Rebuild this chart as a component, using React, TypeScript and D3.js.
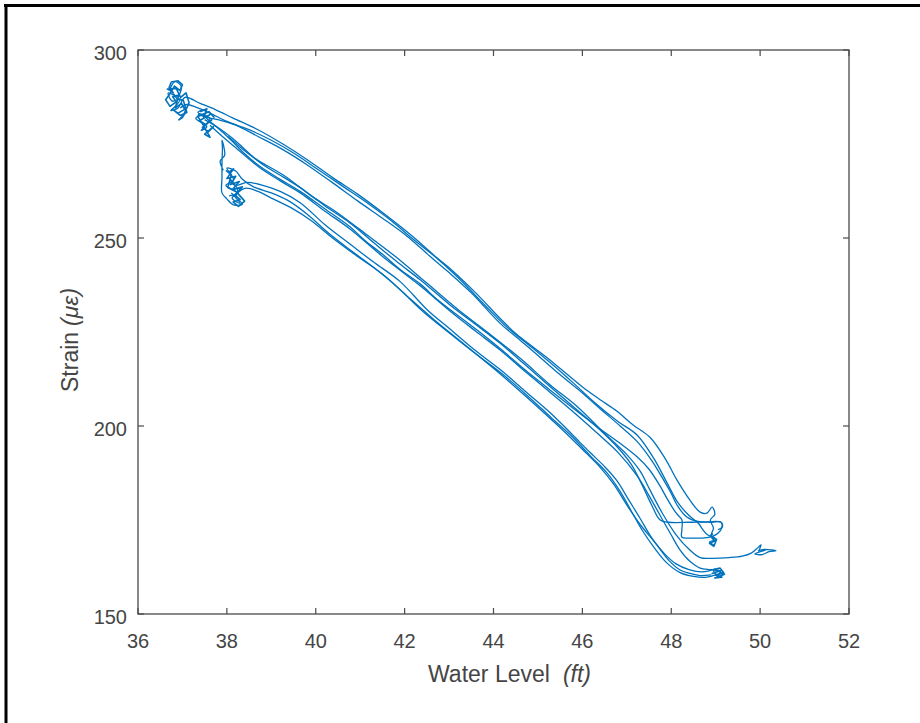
import React, { useEffect, useRef } from 'react';
import * as d3 from 'd3';

type Pt = [number, number];

const xTicks = [36, 38, 40, 42, 44, 46, 48, 50, 52];
const yTicks = [150, 200, 250, 300];
const xLabel = 'Water Level';
const xUnit = '(ft)';
const yLabel = 'Strain';
const yUnit = '(με)';

// [water level (ft), strain (με)]
const pass1: Pt[] = [[36.72,289.6],[36.83,291.6],[36.97,290.4],[36.90,287.8],[36.68,288.6],[36.77,286.4],[36.95,287.0],[36.85,285.1],[36.74,283.9],[36.90,284.6],[37.06,287.4],[37.40,285.8],[37.75,284.1],[38.14,281.9],[38.70,278.8],[39.26,275.0],[39.80,270.9],[40.39,266.0],[40.95,261.6],[41.51,256.7],[41.90,253.1],[42.28,249.4],[42.65,245.5],[43.02,241.9],[43.60,235.4],[44.15,228.6],[44.50,224.6],[44.89,221.0],[45.20,218.2],[45.50,215.3],[46.01,210.3],[46.40,207.0],[46.78,203.9],[47.15,200.2],[47.52,197.0],[47.86,191.4],[48.13,185.6],[48.42,180.3],[48.65,177.1],[48.80,176.8],[48.92,178.4],[48.98,176.5],[48.88,175.0],[48.95,172.8],[48.90,171.0],[49.00,169.8],[48.86,169.2],[48.96,168.4]];

const pass2: Pt[] = [[48.94,170.6],[48.70,170.2],[48.45,170.2],[48.24,170.4],[48.24,172.5],[48.24,175.0],[48.10,177.0],[47.90,180.8],[47.75,184.0],[47.50,188.5],[47.23,191.8],[46.80,195.8],[46.40,199.2],[45.85,204.2],[45.27,209.6],[44.70,215.0],[44.15,220.6],[43.60,225.8],[43.02,231.0],[42.70,234.0],[42.35,237.8],[41.90,241.6],[41.51,245.6],[41.10,249.4],[40.77,253.0],[40.20,257.8],[39.65,262.4],[39.20,265.6],[38.75,269.0],[38.40,272.4],[38.14,275.5],[37.90,278.2],[37.62,281.0],[37.45,282.6],[37.30,281.8],[37.55,279.6],[37.42,278.6],[37.62,281.8],[37.35,283.4],[37.50,284.2]];

const pass3: Pt[] = [[37.35,283.0],[37.50,282.2],[37.80,281.5],[38.20,280.0],[38.70,277.0],[39.26,273.5],[39.80,269.5],[40.39,264.6],[40.95,259.8],[41.51,255.2],[42.00,251.0],[42.28,248.2],[42.70,243.8],[43.02,240.6],[43.50,235.4],[44.15,227.3],[44.60,222.8],[44.89,219.9],[45.50,213.6],[46.00,208.8],[46.40,204.6],[46.85,200.0],[47.23,195.9],[47.55,191.0],[47.75,187.2],[47.98,182.5],[48.15,178.6],[48.35,175.8],[48.60,174.6],[48.90,174.4],[49.12,174.4],[49.14,173.0],[49.05,171.5],[48.92,170.6]];

const pass4: Pt[] = [[48.90,160.4],[48.65,160.2],[48.42,160.8],[48.20,161.7],[47.95,164.2],[47.75,167.2],[47.52,171.0],[47.30,175.4],[47.05,180.2],[46.78,185.4],[46.50,189.2],[46.17,193.0],[45.75,198.0],[45.27,203.6],[44.70,209.4],[44.15,215.0],[43.60,220.0],[43.02,225.8],[42.50,231.0],[41.90,238.4],[41.30,243.6],[40.77,248.4],[40.20,253.6],[39.65,259.4],[39.20,262.4],[38.75,264.2],[38.45,264.8],[38.18,264.0],[38.05,266.0],[38.25,262.5],[38.12,260.6],[38.30,259.2],[38.10,262.0]];

const pass5: Pt[] = [[36.95,284.6],[37.10,285.5],[37.30,284.8],[37.62,283.2],[38.00,281.0],[38.50,278.8],[39.00,276.0],[39.50,272.6],[40.05,268.2],[40.60,263.8],[41.20,259.0],[41.70,254.6],[42.20,249.6],[42.70,244.9],[43.20,239.5],[43.80,232.2],[44.30,226.3],[44.80,221.5],[45.30,216.6],[45.80,211.4],[46.30,206.0],[46.80,201.2],[47.23,197.6],[47.60,191.5],[47.90,185.0],[48.15,179.6],[48.40,176.2],[48.62,174.0],[48.70,172.6],[48.80,171.2],[48.94,170.4]];

const pass6: Pt[] = [[37.62,280.0],[37.90,277.0],[38.14,274.6],[38.75,268.6],[39.20,265.2],[39.65,262.0],[40.20,257.2],[40.77,252.4],[41.51,245.0],[41.90,241.4],[42.35,237.3],[43.02,230.6],[43.60,225.2],[44.15,220.2],[44.70,214.6],[45.27,209.0],[45.85,203.2],[46.40,197.4],[46.80,193.0],[47.23,186.8],[47.50,181.5],[47.75,176.2],[48.00,171.0],[48.20,167.0],[48.42,164.0],[48.65,162.2],[48.90,161.8],[49.10,161.4],[49.05,160.2],[48.95,161.6],[49.15,160.8],[49.10,159.8],[48.98,160.6]];

const pass7: Pt[] = [[49.15,161.0],[48.80,159.8],[48.50,160.0],[48.20,161.0],[47.90,163.6],[47.62,167.6],[47.35,172.2],[47.10,177.4],[46.85,182.6],[46.55,187.6],[46.20,191.8],[45.80,196.8],[45.30,202.2],[44.75,208.2],[44.20,213.8],[43.60,219.2],[43.00,224.8],[42.40,230.6],[41.85,236.8],[41.30,242.2],[40.80,246.6],[40.30,251.2],[39.80,256.4],[39.40,259.8],[39.00,262.0],[38.60,263.6],[38.35,265.6],[38.20,267.8],[38.00,268.6],[38.15,265.4],[37.98,264.0],[38.25,262.0],[38.05,261.2]];

const pass8: Pt[] = [[37.50,281.5],[37.80,279.4],[38.14,276.4],[38.75,270.0],[39.30,266.0],[39.65,263.4],[40.20,258.6],[40.77,254.0],[41.30,248.8],[41.90,243.0],[42.35,238.9],[43.02,232.2],[43.60,227.0],[44.15,222.0],[44.70,216.4],[45.27,210.5],[45.85,204.6],[46.40,198.9],[46.80,194.2],[47.10,189.8],[47.35,184.2],[47.55,179.2],[47.75,175.0],[47.95,174.4],[48.40,174.4],[48.80,174.5],[49.12,174.4],[49.15,173.2],[49.05,172.4]];

const pass9: Pt[] = [[49.00,162.0],[48.70,161.2],[48.40,161.8],[48.10,163.4],[47.85,166.0],[47.58,169.8],[47.30,173.8],[47.00,179.0],[46.70,184.6],[46.40,189.0],[46.00,193.8],[45.55,199.0],[45.00,205.0],[44.45,210.8],[43.85,216.8],[43.25,222.6],[42.65,228.4],[42.05,234.6],[41.50,240.4],[40.95,245.0],[40.40,249.8],[39.90,254.6],[39.45,258.0],[39.00,260.6],[38.70,262.4],[38.40,263.2],[38.20,261.0],[38.35,259.0],[38.15,258.8],[38.00,260.4],[37.89,262.0],[37.89,266.0],[37.89,270.0],[37.90,274.0],[37.89,276.0],[37.95,272.0],[37.85,270.5],[37.92,268.0]];

const pass10: Pt[] = [[38.03,277.0],[38.60,271.4],[39.26,266.8],[39.90,261.2],[40.50,256.6],[41.20,250.4],[41.80,245.0],[42.50,238.0],[43.20,231.0],[43.90,224.6],[44.60,218.0],[45.27,211.0],[45.90,205.0],[46.50,198.0],[47.00,192.4],[47.30,188.0],[47.52,183.0],[47.80,176.8],[48.10,171.2],[48.42,167.0],[48.65,165.0],[48.90,164.8],[49.30,165.0],[49.60,165.4],[49.80,166.2],[49.93,167.4],[50.02,168.4],[49.98,166.6],[50.12,167.0],[49.88,166.0],[50.05,165.8],[50.20,166.6],[50.36,166.8],[50.10,167.2],[49.95,166.8]];

// dwell periods (noisy readings while the water level held steady)
const clusterTop: Pt[] = [[36.80,288.5],[36.70,290.0],[36.75,291.5],[36.90,291.8],[37.00,290.8],[36.95,289.2],[36.82,290.4],[36.70,288.0],[36.62,286.8],[36.72,285.0],[36.86,286.2],[36.78,287.6],[36.92,288.0],[36.84,284.6],[36.98,285.8],[37.05,284.2],[36.90,283.2],[36.80,284.0],[36.95,282.6],[37.10,283.4],[37.02,286.6],[36.88,287.0],[36.76,289.0],[36.66,289.6],[36.86,289.8],[36.96,287.4],[37.08,288.6],[37.15,286.0],[37.00,282.0],[36.92,281.4],[37.06,283.0]];

const clusterUpper: Pt[] = [[37.40,283.6],[37.55,284.4],[37.48,282.0],[37.62,282.8],[37.38,281.2],[37.52,280.2],[37.66,281.4],[37.45,279.4],[37.58,278.2],[37.70,279.6],[37.50,277.6],[37.62,276.8],[37.44,280.6],[37.34,282.4],[37.60,283.6],[37.72,282.0]];

const clusterLower: Pt[] = [[38.05,267.6],[38.15,268.4],[38.00,265.8],[38.20,266.4],[38.08,264.2],[38.28,265.0],[38.12,262.8],[38.35,263.6],[38.18,261.4],[38.30,260.2],[38.14,259.6],[38.26,258.4],[38.40,259.8],[38.22,262.2],[38.02,263.4],[38.10,266.8],[37.98,268.0]];

const clusterBottom: Pt[] = [[48.95,161.8],[49.10,162.2],[49.18,161.0],[49.02,160.4],[49.14,159.8],[48.98,159.6],[49.20,160.6],[49.06,161.4],[48.92,160.8],[49.12,161.6]];

const clusterMid: Pt[] = [[48.90,170.4],[48.98,169.4],[48.86,168.8],[48.96,168.0],[49.02,169.8],[48.88,170.8],[48.94,171.4]];

const passes: Pt[][] = [pass1, pass2, pass3, pass4, pass5, pass6, pass7, pass8, pass9, pass10];
const clusters: Pt[][] = [clusterTop, clusterUpper, clusterLower, clusterBottom, clusterMid];

export default function App() {
  const ref = useRef<SVGSVGElement>(null);

  useEffect(() => {
    const svg = d3.select(ref.current);
    svg.selectAll('*').remove();

    const left = 138, right = 849, top = 50, bottom = 614;
    const x = d3.scaleLinear().domain([36, 52]).range([left, right]);
    const y = d3.scaleLinear().domain([150, 300]).range([bottom, top]);

    svg.append('rect').attr('width', 920).attr('height', 723).attr('fill', '#fff');

    // outer frame (left and top edges)
    svg.append('line').attr('x1', 6).attr('x2', 6).attr('y1', 4).attr('y2', 723)
      .attr('stroke', '#000').attr('stroke-width', 3);
    svg.append('line').attr('x1', 4).attr('x2', 920).attr('y1', 5.5).attr('y2', 5.5)
      .attr('stroke', '#000').attr('stroke-width', 3);

    const axisColor = '#4a4a4a';
    const textColor = '#454545';
    const font = '"Liberation Sans", Arial, Helvetica, sans-serif';

    const smooth = d3.line<Pt>()
      .x(d => x(d[0]))
      .y(d => y(d[1]))
      .curve(d3.curveCatmullRom.alpha(0.5));
    const jagged = d3.line<Pt>()
      .x(d => x(d[0]))
      .y(d => y(d[1]));
    const g = svg.append('g');
    passes.forEach(p => {
      g.append('path')
        .attr('d', smooth(p) as string)
        .attr('fill', 'none')
        .attr('stroke', '#0072BD')
        .attr('stroke-width', 1.3)
        .attr('stroke-linejoin', 'round');
    });
    clusters.forEach(p => {
      g.append('path')
        .attr('d', jagged(p) as string)
        .attr('fill', 'none')
        .attr('stroke', '#0072BD')
        .attr('stroke-width', 1.6)
        .attr('stroke-linejoin', 'round');
    });

    // axes box
    svg.append('rect')
      .attr('x', left).attr('y', top)
      .attr('width', right - left).attr('height', bottom - top)
      .attr('fill', 'none').attr('stroke', axisColor).attr('stroke-width', 1.3);

    const tl = 6;
    xTicks.forEach(t => {
      const px = x(t);
      svg.append('line').attr('x1', px).attr('x2', px).attr('y1', bottom).attr('y2', bottom - tl)
        .attr('stroke', axisColor).attr('stroke-width', 1.2);
      svg.append('line').attr('x1', px).attr('x2', px).attr('y1', top).attr('y2', top + tl)
        .attr('stroke', axisColor).attr('stroke-width', 1.2);
      svg.append('text').attr('x', px).attr('y', bottom + 34)
        .attr('text-anchor', 'middle').attr('font-family', font).attr('font-size', 20)
        .attr('fill', textColor).text(String(t));
    });
    yTicks.forEach(t => {
      const py = y(t);
      svg.append('line').attr('x1', left).attr('x2', left + tl).attr('y1', py).attr('y2', py)
        .attr('stroke', axisColor).attr('stroke-width', 1.2);
      svg.append('line').attr('x1', right).attr('x2', right - tl).attr('y1', py).attr('y2', py)
        .attr('stroke', axisColor).attr('stroke-width', 1.2);
      svg.append('text').attr('x', left - 11).attr('y', py + 10)
        .attr('text-anchor', 'end').attr('font-family', font).attr('font-size', 20)
        .attr('fill', textColor).text(String(t));
    });

    // x label
    const xt = svg.append('text').attr('x', 428).attr('y', 682)
      .attr('font-family', font).attr('font-size', 23).attr('fill', textColor);
    xt.append('tspan').text(xLabel);
    xt.append('tspan').attr('dx', 13).attr('font-style', 'italic').text(xUnit);

    // y label
    const yt = svg.append('text')
      .attr('transform', 'translate(78,392) rotate(-90)')
      .attr('font-family', font).attr('font-size', 23).attr('fill', textColor);
    yt.append('tspan').text(yLabel);
    yt.append('tspan').attr('dx', 6).attr('font-style', 'italic').text(yUnit);
  }, []);

  return (
    <svg ref={ref} width={920} height={723}
      style={{ position: 'absolute', left: 0, top: 0, display: 'block' }} />
  );
}
